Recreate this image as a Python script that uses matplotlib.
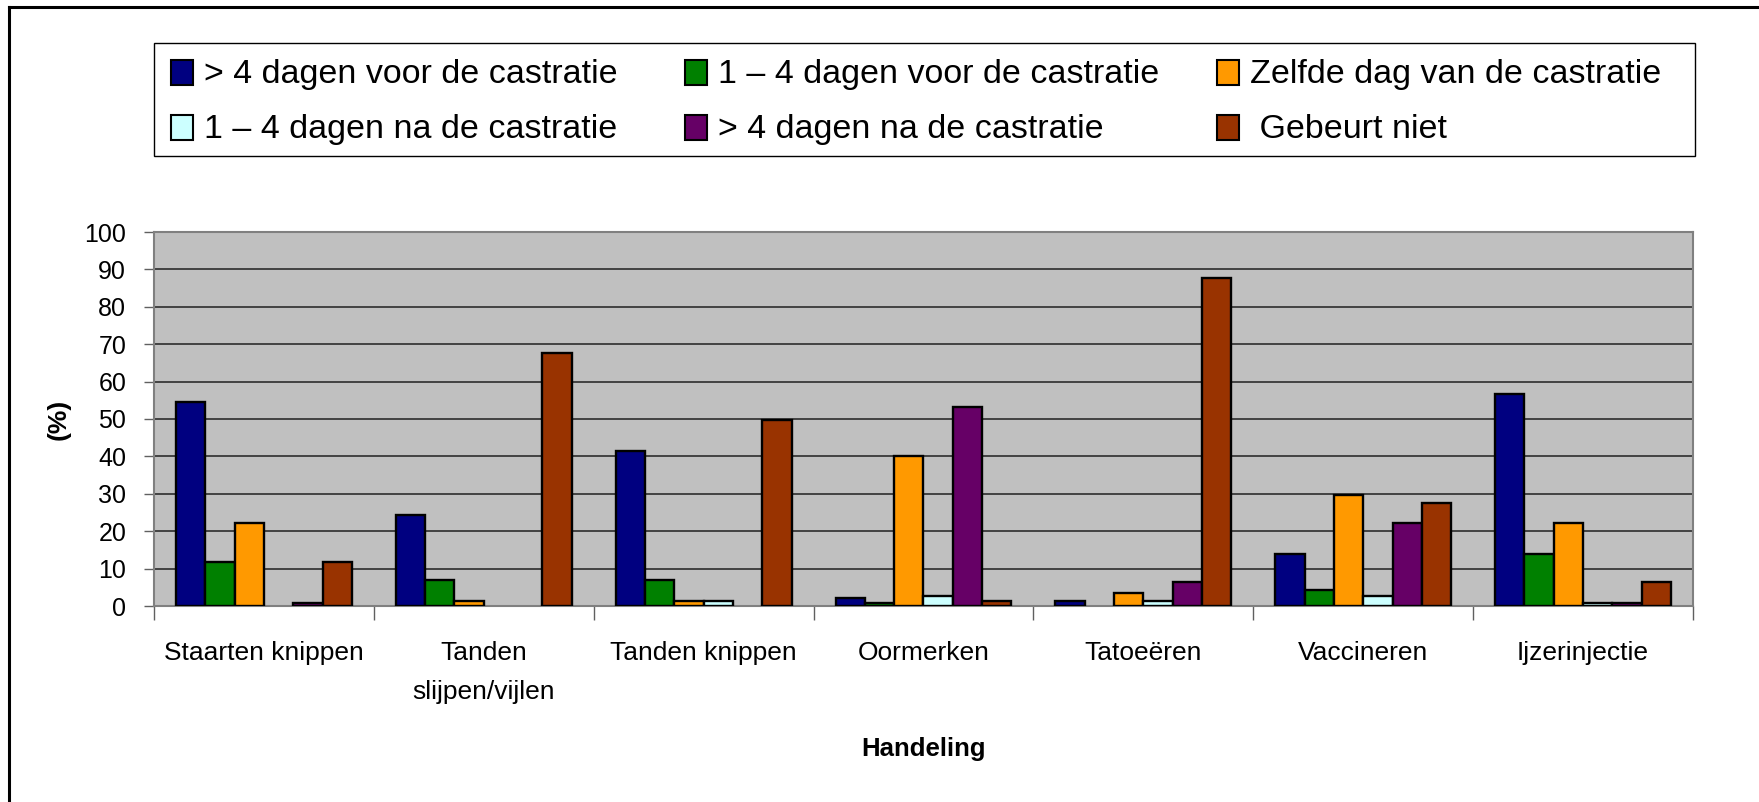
import matplotlib
matplotlib.use("Agg")
import matplotlib.pyplot as plt
from matplotlib.lines import Line2D
from matplotlib.patches import Rectangle
import numpy as np

plt.rcParams['font.family'] = ['Liberation Sans', 'DejaVu Sans']

# categories (Handeling) and the share (%) per timing category
categories = ["Staarten knippen", "Tanden\nslijpen/vijlen", "Tanden knippen",
              "Oormerken", "Tatoeëren", "Vaccineren", "Ijzerinjectie"]
series_names = ["> 4 dagen voor de castratie", "1 – 4 dagen voor de castratie",
                "Zelfde dag van de castratie", "1 – 4 dagen na de castratie",
                "> 4 dagen na de castratie", " Gebeurt niet"]
gt4_voor = [54.5, 24.2, 41.4, 2.1, 1.4, 13.9, 56.6]
voor_1_4 = [11.8, 7.0, 7.0, 0.8, 0.0, 4.2, 13.9]
zelfde_dag = [22.2, 1.4, 1.4, 40.0, 3.6, 29.7, 22.1]
na_1_4 = [0.0, 0.0, 1.4, 2.8, 1.4, 2.8, 0.8]
gt4_na = [0.8, 0.0, 0.0, 53.1, 6.3, 22.1, 0.8]
gebeurt_niet = [11.8, 67.6, 49.6, 1.4, 87.6, 27.5, 6.3]
all_series = [gt4_voor, voor_1_4, zelfde_dag, na_1_4, gt4_na, gebeurt_niet]
colors = ["#000080", "#008000", "#FF9900", "#CCFFFF", "#660066", "#993300"]

W, H = 1759, 802
fig = plt.figure(figsize=(W / 100, H / 100), dpi=100)
ax = fig.add_axes([154 / W, 1 - 606 / H, (1693 - 154) / W, (606 - 232) / H])
ax.set_facecolor("#C0C0C0")

x = np.arange(len(categories))
bw = 1 / 7.5
for i, vals in enumerate(all_series):
    bars = ax.bar(x + (i - 2.5) * bw, vals, width=bw, color=colors[i],
                  edgecolor="black", linewidth=1.7, zorder=3)
    for p in bars:
        if p.get_height() == 0:
            p.set_visible(False)

ax.set_xlim(-0.5, len(categories) - 0.5)
ax.set_ylim(0, 100)
ax.set_yticks(np.arange(0, 101, 10))
ax.yaxis.grid(True, color="#202020", linewidth=1.1, zorder=1)
ax.set_axisbelow(True)
ax.tick_params(axis="y", labelsize=18, length=7, width=1, color="#606060", pad=13)

# category boundaries as major ticks, labels on minor ticks
ax.set_xticks(np.arange(-0.5, len(categories), 1.0))
ax.set_xticklabels([])
ax.set_xticks(x, minor=True)
ax.set_xticklabels(categories, minor=True, fontsize=19, linespacing=1.8)
ax.tick_params(axis="x", which="major", length=10, width=1, color="#606060")
ax.tick_params(axis="x", which="minor", length=0, pad=25)

for s in ax.spines.values():
    s.set_color("#808080")
    s.set_linewidth(1.5)

ax.set_ylabel("(%)", fontsize=19, fontweight="bold", labelpad=10)
fig.text(923 / W, 1 - 749 / H, "Handeling", fontsize=18.5, fontweight="bold",
         ha="center", va="center")

# legend box, entries laid out row-wise like the original
fig.add_artist(Rectangle((154 / W, 1 - 156 / H), (1695 - 154) / W, 113 / H,
                         transform=fig.transFigure, facecolor="white",
                         edgecolor="black", linewidth=1.0))
col_x = [171, 685, 1217]
row_y = [72, 127]
for k, name in enumerate(series_names):
    cx, cy = col_x[k % 3], row_y[k // 3]
    fig.add_artist(Rectangle((cx / W, 1 - (cy + 12.5) / H), 22 / W, 25 / H,
                             transform=fig.transFigure, facecolor=colors[k],
                             edgecolor="black", linewidth=1.5))
    fig.text((cx + 33) / W, 1 - (cy + 2.5) / H, name, fontsize=24.5,
             ha="left", va="center")

# outer chart frame (only top and left fall inside the image)
fig.add_artist(Line2D([9 / W, 9 / W], [0, 1 - 7 / H], color="black", linewidth=2.2,
                      transform=fig.transFigure))
fig.add_artist(Line2D([9 / W, 1], [1 - 7 / H, 1 - 7 / H], color="black", linewidth=2.2,
                      transform=fig.transFigure))

fig.savefig("out.png", dpi=100)
